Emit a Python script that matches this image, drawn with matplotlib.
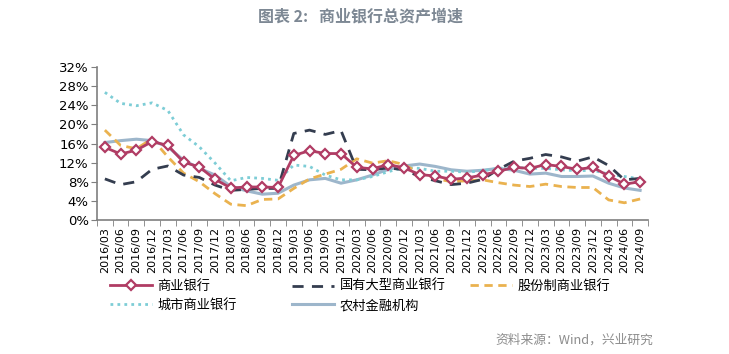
import matplotlib
matplotlib.use("Agg")
import matplotlib.pyplot as plt
import numpy as np

plt.rcParams['font.family'] = ['Noto Sans CJK SC', 'DejaVu Sans']

quarters = [f"{y}/{m}" for y in range(2016, 2025) for m in ["03", "06", "09", "12"]][:35]

commercial = [15.2, 13.8, 14.6, 16.4, 15.6, 12.1, 11.1, 8.5, 6.7, 6.9, 6.9, 6.8,
              13.5, 14.5, 13.9, 13.9, 11.0, 10.7, 11.6, 10.9, 9.5, 9.2, 8.5, 8.8,
              9.4, 10.2, 11.0, 10.8, 11.6, 11.2, 10.6, 11.0, 9.2, 7.5, 8.0]
state_large = [8.6, 7.4, 8.0, 10.6, 11.3, 9.4, 8.9, 7.3, 6.2, 6.4, 6.6, 6.6,
               18.1, 18.8, 17.9, 18.7, 10.6, 10.5, 10.9, 10.5, 9.1, 8.2, 7.4, 7.7,
               8.5, 10.6, 12.3, 12.9, 13.7, 13.2, 12.3, 13.2, 11.4, 8.4, 8.7]
joint_stock = [18.8, 15.6, 14.9, 17.0, 13.2, 9.8, 8.0, 5.5, 3.3, 3.0, 4.3, 4.4,
               6.6, 8.6, 9.6, 10.6, 12.8, 11.9, 12.4, 11.6, 9.8, 8.7, 8.0, 8.2,
               8.4, 7.8, 7.3, 7.0, 7.5, 7.0, 6.8, 6.8, 4.2, 3.6, 4.4]
city = [26.7, 24.4, 23.9, 24.5, 22.9, 17.8, 15.3, 11.9, 8.2, 8.9, 8.7, 8.3,
        11.5, 11.2, 9.4, 8.4, 8.4, 9.1, 10.1, 11.0, 10.8, 10.2, 10.2, 10.0,
        10.3, 10.8, 11.0, 10.8, 10.8, 10.5, 10.3, 10.4, 9.6, 9.1, 8.6]
rural = [16.2, 16.6, 16.9, 16.6, 15.3, 12.5, 10.8, 9.4, 7.0, 6.1, 5.4, 5.6,
         7.3, 8.4, 8.7, 7.7, 8.4, 9.4, 10.6, 11.3, 11.7, 11.2, 10.5, 10.2,
         10.4, 10.8, 10.4, 9.6, 9.8, 9.1, 9.1, 9.2, 7.7, 6.7, 6.2]

fig = plt.figure(figsize=(7.29, 3.54), dpi=100)
ax = fig.add_axes([97 / 729, 1 - 220 / 354, 551 / 729, 153 / 354])

x = np.arange(len(quarters))
l1, = ax.plot(x, commercial, color="#b03c64", lw=2, marker="D", ms=5.5,
              mfc="white", mec="#b03c64", mew=1.6, label="商业银行", zorder=5)
l2, = ax.plot(x, state_large, color="#343d4f", lw=2, ls=(0, (4, 3)), label="国有大型商业银行", zorder=4)
l3, = ax.plot(x, joint_stock, color="#eab24f", lw=2, ls=(0, (3, 2)), label="股份制商业银行", zorder=3)
l4, = ax.plot(x, city, color="#7dcdd6", lw=2, ls=(0, (1, 1.5)), label="城市商业银行", zorder=2)
l5, = ax.plot(x, rural, color="#9db6cb", lw=2.2, label="农村金融机构", zorder=1)

ax.set_xlim(-0.5, len(quarters) - 0.5)
ax.set_ylim(0, 32)
ax.set_yticks(np.arange(0, 33, 4))
ax.set_yticklabels([f"{v}%" for v in range(0, 33, 4)], fontsize=9.5, family="DejaVu Sans")
ax.set_xticks(x)
ax.set_xticklabels(quarters, rotation=90, fontsize=8, family="DejaVu Sans")
ax.set_xticks(np.arange(-0.5, len(quarters), 1), minor=True)
ax.tick_params(axis="x", which="major", length=0, pad=5)
ax.tick_params(axis="x", which="minor", length=4, direction="out", color="#7f7f7f")
ax.tick_params(axis="y", length=4, direction="out", color="#7f7f7f", pad=2)
for s in ["top", "right"]:
    ax.spines[s].set_visible(False)
for s in ["left", "bottom"]:
    ax.spines[s].set_color("#7f7f7f")
    ax.spines[s].set_linewidth(1.2)

# three legend columns placed like the original
cols = [([l1, l4], 110), ([l2, l5], 292), ([l3], 470)]
for handles, xpos in cols:
    leg = fig.legend(handles=handles, loc="upper left",
                     bbox_to_anchor=(xpos / 729, 1 - 280 / 354),
                     frameon=False, fontsize=9.5, handlelength=3.2,
                     handletextpad=0.4, labelspacing=0.45,
                     borderpad=0, borderaxespad=0)

fig.text(0.495, 1 - 16 / 354, "图表 2:   商业银行总资产增速", ha="center", va="center",
         fontsize=11.5, fontweight="bold", color="#7d8894")
fig.text(653 / 729, 1 - 340 / 354, "资料来源：Wind，兴业研究", ha="right", va="center",
         fontsize=9.2, color="#8c8c8c")

fig.savefig("out.png", dpi=100)
